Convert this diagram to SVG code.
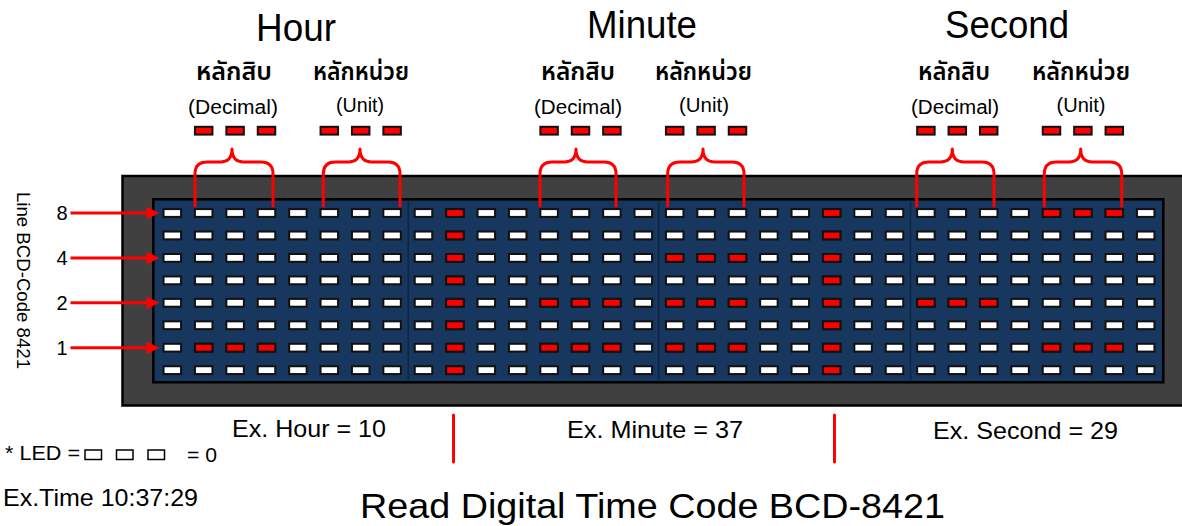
<svg xmlns="http://www.w3.org/2000/svg" xmlns:xlink="http://www.w3.org/1999/xlink" width="1182" height="526" viewBox="0 0 1182 526">
<style>
text{font-family:"Liberation Sans",Arial,sans-serif;fill:#000}
.title{font-size:38px;text-anchor:middle}
.thai{font-family:"Noto Sans Thai","Noto Sans","Liberation Sans","DejaVu Sans",sans-serif;font-size:25px;font-weight:600;text-anchor:middle}
.sub{font-size:19.5px;text-anchor:middle}
.ex{font-size:24px;text-anchor:middle}
.num{font-size:20px;text-anchor:middle}
.brace{fill:none;stroke:#ff0000;stroke-width:3;stroke-linecap:round;stroke-linejoin:round}
.arr{stroke:#ff0000;stroke-width:3}
.div{stroke:#0e2646;stroke-width:1.5}
</style>
<defs>
<rect id="lw" x="-8.75" y="-3.9" width="17.5" height="7.8" fill="#ffffff" stroke="#111111" stroke-width="2"/>
<rect id="lr" x="-8.75" y="-3.9" width="17.5" height="7.8" fill="#ff0000" stroke="#111111" stroke-width="2"/>
<g id="row">
<use xlink:href="#lw" x="172.3"/><use xlink:href="#lw" x="203.7"/><use xlink:href="#lw" x="235.1"/><use xlink:href="#lw" x="266.5"/>
<use xlink:href="#lw" x="297.9"/><use xlink:href="#lw" x="329.3"/><use xlink:href="#lw" x="360.7"/><use xlink:href="#lw" x="392.1"/>
<use xlink:href="#lw" x="423.5"/><use xlink:href="#lw" x="454.9"/><use xlink:href="#lw" x="486.3"/><use xlink:href="#lw" x="517.7"/>
<use xlink:href="#lw" x="549.1"/><use xlink:href="#lw" x="580.5"/><use xlink:href="#lw" x="611.9"/><use xlink:href="#lw" x="643.3"/>
<use xlink:href="#lw" x="674.7"/><use xlink:href="#lw" x="706.1"/><use xlink:href="#lw" x="737.5"/><use xlink:href="#lw" x="768.9"/>
<use xlink:href="#lw" x="800.3"/><use xlink:href="#lw" x="831.7"/><use xlink:href="#lw" x="863.1"/><use xlink:href="#lw" x="894.5"/>
<use xlink:href="#lw" x="925.9"/><use xlink:href="#lw" x="957.3"/><use xlink:href="#lw" x="988.7"/><use xlink:href="#lw" x="1020.1"/>
<use xlink:href="#lw" x="1051.5"/><use xlink:href="#lw" x="1082.9"/><use xlink:href="#lw" x="1114.3"/><use xlink:href="#lw" x="1145.7"/>
</g>
<g id="redcol">
<use xlink:href="#lr" y="213"/><use xlink:href="#lr" y="235.45"/><use xlink:href="#lr" y="257.9"/><use xlink:href="#lr" y="280.35"/>
<use xlink:href="#lr" y="302.8"/><use xlink:href="#lr" y="325.25"/><use xlink:href="#lr" y="347.7"/><use xlink:href="#lr" y="370.15"/>
</g>
</defs>
<rect width="1182" height="526" fill="#ffffff"/>

<g id="titles">
<text class="title" x="296" y="41" textLength="80" lengthAdjust="spacingAndGlyphs">Hour</text>
<text class="title" x="642" y="38" textLength="110" lengthAdjust="spacingAndGlyphs">Minute</text>
<text class="title" x="1007" y="38" textLength="124" lengthAdjust="spacingAndGlyphs">Second</text>
</g>

<g id="digit-labels">
<text class="thai" x="234" y="80" textLength="76" lengthAdjust="spacingAndGlyphs">หลักสิบ</text>
<text class="thai" x="361" y="80" textLength="96" lengthAdjust="spacingAndGlyphs">หลักหน่วย</text>
<text class="thai" x="578" y="80" textLength="74" lengthAdjust="spacingAndGlyphs">หลักสิบ</text>
<text class="thai" x="703.5" y="80" textLength="97" lengthAdjust="spacingAndGlyphs">หลักหน่วย</text>
<text class="thai" x="954" y="80" textLength="72" lengthAdjust="spacingAndGlyphs">หลักสิบ</text>
<text class="thai" x="1081" y="80" textLength="98" lengthAdjust="spacingAndGlyphs">หลักหน่วย</text>
<text class="sub" x="233" y="114" textLength="90" lengthAdjust="spacingAndGlyphs">(Decimal)</text>
<text class="sub" x="360" y="112" textLength="48" lengthAdjust="spacingAndGlyphs">(Unit)</text>
<text class="sub" x="578" y="114" textLength="88" lengthAdjust="spacingAndGlyphs">(Decimal)</text>
<text class="sub" x="704" y="112" textLength="50" lengthAdjust="spacingAndGlyphs">(Unit)</text>
<text class="sub" x="955" y="114" textLength="88" lengthAdjust="spacingAndGlyphs">(Decimal)</text>
<text class="sub" x="1081" y="112" textLength="49" lengthAdjust="spacingAndGlyphs">(Unit)</text>
</g>

<g id="indicator-leds">
<use xlink:href="#lr" x="203.7" y="130.7"/><use xlink:href="#lr" x="235.1" y="130.7"/><use xlink:href="#lr" x="266.5" y="130.7"/>
<use xlink:href="#lr" x="329.3" y="130.7"/><use xlink:href="#lr" x="360.7" y="130.7"/><use xlink:href="#lr" x="392.1" y="130.7"/>
<use xlink:href="#lr" x="549.1" y="130.7"/><use xlink:href="#lr" x="580.5" y="130.7"/><use xlink:href="#lr" x="611.9" y="130.7"/>
<use xlink:href="#lr" x="674.7" y="130.7"/><use xlink:href="#lr" x="706.1" y="130.7"/><use xlink:href="#lr" x="737.5" y="130.7"/>
<use xlink:href="#lr" x="925.9" y="130.7"/><use xlink:href="#lr" x="957.3" y="130.7"/><use xlink:href="#lr" x="988.7" y="130.7"/>
<use xlink:href="#lr" x="1051.5" y="130.7"/><use xlink:href="#lr" x="1082.9" y="130.7"/><use xlink:href="#lr" x="1114.3" y="130.7"/>
</g>

<g id="panel">
<rect x="122.5" y="176" width="1070" height="229.5" fill="#404040" stroke="#000" stroke-width="2.5"/>
<rect x="153.3" y="199.3" width="1010" height="183" fill="#17375e" stroke="#000" stroke-width="2.5"/>
<line class="div" x1="408.3" y1="200.5" x2="408.3" y2="381.5"/>
<line class="div" x1="658.7" y1="200.5" x2="658.7" y2="381.5"/>
<line class="div" x1="910.5" y1="200.5" x2="910.5" y2="381.5"/>
</g>

<g id="led-grid">
<use xlink:href="#row" y="213"/>
<use xlink:href="#row" y="235.45"/>
<use xlink:href="#row" y="257.9"/>
<use xlink:href="#row" y="280.35"/>
<use xlink:href="#row" y="302.8"/>
<use xlink:href="#row" y="325.25"/>
<use xlink:href="#row" y="347.7"/>
<use xlink:href="#row" y="370.15"/>
<use xlink:href="#lr" x="203.7" y="347.7"/><use xlink:href="#lr" x="235.1" y="347.7"/><use xlink:href="#lr" x="266.5" y="347.7"/>
<use xlink:href="#redcol" x="454.9"/>
<use xlink:href="#redcol" x="831.7"/>
<use xlink:href="#lr" x="549.1" y="302.8"/><use xlink:href="#lr" x="580.5" y="302.8"/><use xlink:href="#lr" x="611.9" y="302.8"/>
<use xlink:href="#lr" x="549.1" y="347.7"/><use xlink:href="#lr" x="580.5" y="347.7"/><use xlink:href="#lr" x="611.9" y="347.7"/>
<use xlink:href="#lr" x="674.7" y="257.9"/><use xlink:href="#lr" x="706.1" y="257.9"/><use xlink:href="#lr" x="737.5" y="257.9"/>
<use xlink:href="#lr" x="674.7" y="302.8"/><use xlink:href="#lr" x="706.1" y="302.8"/><use xlink:href="#lr" x="737.5" y="302.8"/>
<use xlink:href="#lr" x="674.7" y="347.7"/><use xlink:href="#lr" x="706.1" y="347.7"/><use xlink:href="#lr" x="737.5" y="347.7"/>
<use xlink:href="#lr" x="925.9" y="302.8"/><use xlink:href="#lr" x="957.3" y="302.8"/><use xlink:href="#lr" x="988.7" y="302.8"/>
<use xlink:href="#lr" x="1051.5" y="213"/><use xlink:href="#lr" x="1082.9" y="213"/><use xlink:href="#lr" x="1114.3" y="213"/>
<use xlink:href="#lr" x="1051.5" y="347.7"/><use xlink:href="#lr" x="1082.9" y="347.7"/><use xlink:href="#lr" x="1114.3" y="347.7"/>
</g>

<g id="braces">
<path class="brace" d="M195,206 V174 Q195,162 207,162 H220 Q232,162 232,149 Q232,162 244,162 H261 Q273,162 273,174 V206"/>
<path class="brace" d="M323.3,206 V174 Q323.3,162 335,162 H348 Q360,162 360,149 Q360,162 372,162 H388 Q400,162 400,174 V206"/>
<path class="brace" d="M540,206 V174 Q540,162 552,162 H564 Q576,162 576,149 Q576,162 588,162 H604 Q616,162 616,174 V206"/>
<path class="brace" d="M667.7,206 V174 Q667.7,162 679.7,162 H691 Q703,162 703,149 Q703,162 715,162 H732 Q744,162 744,174 V206"/>
<path class="brace" d="M916.7,206 V174 Q916.7,162 928.7,162 H940 Q952.3,162 952.3,149 Q952.3,162 964.3,162 H982 Q994,162 994,174 V206"/>
<path class="brace" d="M1044.3,206 V174 Q1044.3,162 1056.3,162 H1068.7 Q1080.7,162 1080.7,149 Q1080.7,162 1092.7,162 H1109.7 Q1121.7,162 1121.7,174 V206"/>
</g>

<g id="line-labels">
<text transform="translate(17,192) rotate(90)" font-size="19" textLength="177" lengthAdjust="spacingAndGlyphs">Line BCD-Code 8421</text>
<text class="num" x="62" y="220">8</text>
<text class="num" x="62" y="265">4</text>
<text class="num" x="62" y="310">2</text>
<text class="num" x="62" y="355">1</text>
</g>

<g id="connectors">
<line class="arr" x1="70.5" y1="213" x2="148" y2="213"/><polygon points="146.5,206.7 159.5,213 146.5,219.3" fill="#ff0000"/>
<line class="arr" x1="70.5" y1="257.9" x2="148" y2="257.9"/><polygon points="146.5,251.6 159.5,257.9 146.5,264.2" fill="#ff0000"/>
<line class="arr" x1="70.5" y1="302.8" x2="148" y2="302.8"/><polygon points="146.5,296.5 159.5,302.8 146.5,309.1" fill="#ff0000"/>
<line class="arr" x1="70.5" y1="347.7" x2="148" y2="347.7"/><polygon points="146.5,341.4 159.5,347.7 146.5,354" fill="#ff0000"/>
<line x1="453.5" y1="415" x2="453.5" y2="462" stroke="#ff0000" stroke-width="3" stroke-linecap="round"/>
<line x1="834.5" y1="415" x2="834.5" y2="462" stroke="#ff0000" stroke-width="3" stroke-linecap="round"/>
</g>

<g id="examples">
<text class="ex" x="309" y="437" textLength="154" lengthAdjust="spacingAndGlyphs">Ex. Hour = 10</text>
<text class="ex" x="655" y="438" textLength="176" lengthAdjust="spacingAndGlyphs">Ex. Minute = 37</text>
<text class="ex" x="1025.5" y="439" textLength="185" lengthAdjust="spacingAndGlyphs">Ex. Second = 29</text>
</g>

<g id="legend">
<text x="5" y="460" font-size="21" textLength="75" lengthAdjust="spacingAndGlyphs">* LED =</text>
<rect x="85" y="450" width="16.5" height="9.5" fill="#fff" stroke="#000" stroke-width="1.5"/>
<rect x="116.5" y="450" width="16.5" height="9.5" fill="#fff" stroke="#000" stroke-width="1.5"/>
<rect x="148" y="450" width="16.5" height="9.5" fill="#fff" stroke="#000" stroke-width="1.5"/>
<text x="187" y="462" font-size="21" textLength="30" lengthAdjust="spacingAndGlyphs">= 0</text>
<text x="3" y="506" font-size="24" textLength="195" lengthAdjust="spacingAndGlyphs">Ex.Time 10:37:29</text>
</g>

<text x="652.5" y="518" font-size="35" text-anchor="middle" textLength="585" lengthAdjust="spacingAndGlyphs">Read Digital Time Code BCD-8421</text>
</svg>
